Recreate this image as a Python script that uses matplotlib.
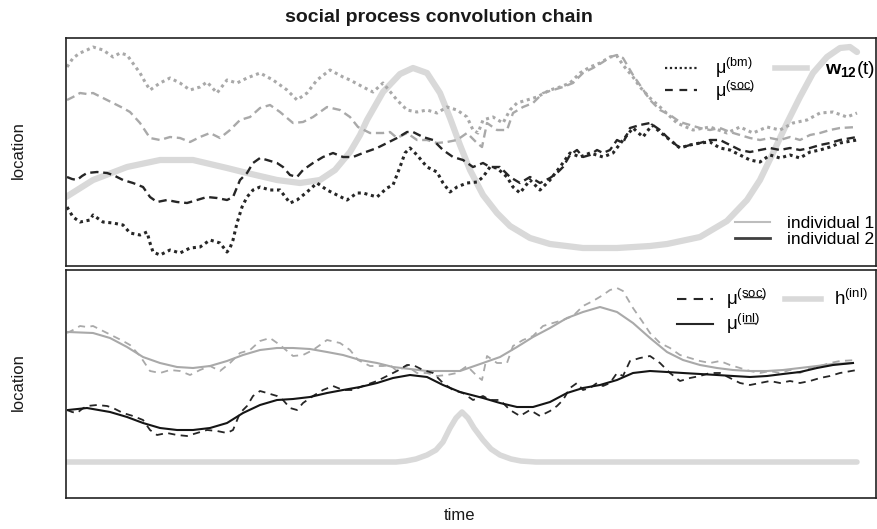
import numpy as np
import matplotlib.pyplot as plt
from matplotlib.lines import Line2D

plt.rcParams['font.family'] = ['Liberation Sans', 'DejaVu Sans']
plt.rcParams['mathtext.fontset'] = 'custom'
plt.rcParams['mathtext.rm'] = 'Liberation Sans'
plt.rcParams['mathtext.it'] = 'Liberation Sans:italic'
plt.rcParams['mathtext.bf'] = 'Liberation Sans:bold'

# --- individual 1: brownian motion and social process (time step, location)
bm1_t = [1, 7, 14, 21, 27, 37, 47, 54, 61, 66, 74, 79, 84, 94, 104, 114, 124, 134, 141, 151,
         161, 171, 181, 194, 207, 221, 231, 241, 251, 264, 277, 284, 297, 307, 317, 331, 341, 351, 361, 371,
         381, 391, 401, 407, 412, 417, 427, 437, 444, 451, 461, 471, 484, 494, 504, 514, 524, 534, 544, 551,
         557, 567, 574, 584, 594, 611, 627, 644, 661, 674, 687, 701, 714, 727, 741, 754, 767, 781, 791]
bm1 = [198, 207, 212, 215, 218, 215, 208, 212, 210, 203, 192, 183, 175, 182, 187, 182, 175, 178, 183, 172,
       185, 182, 187, 192, 185, 175, 165, 172, 185, 195, 188, 185, 178, 173, 182, 165, 155, 153, 155, 152,
       158, 155, 148, 135, 132, 145, 148, 142, 155, 162, 165, 168, 175, 178, 182, 192, 198, 202, 208, 209,
       200, 188, 178, 167, 158, 142, 135, 138, 132, 138, 132, 138, 135, 142, 145, 152, 153, 148, 152]

soc1_t = [1, 7, 14, 21, 27, 37, 51, 57, 64, 74, 84, 94, 104, 114, 124, 134, 144, 154, 164, 174,
          184, 194, 204, 214, 227, 237, 247, 261, 274, 284, 292, 304, 317, 324, 331, 341, 351, 361, 371, 381,
          391, 401, 411, 416, 421, 431, 441, 447, 457, 467, 477, 487, 497, 507, 517, 527, 537, 544, 551, 557,
          567, 576, 584, 594, 604, 614, 624, 634, 644, 654, 664, 674, 684, 694, 704, 714, 724, 734, 744, 754,
          764, 774, 791]
soc1 = [165, 168, 172, 171, 172, 167, 160, 157, 153, 142, 127, 125, 128, 127, 123, 128, 132, 127, 135, 145,
        148, 157, 160, 153, 142, 143, 148, 158, 155, 148, 138, 132, 132, 133, 127, 132, 125, 125, 122, 123,
        125, 132, 122, 118, 142, 135, 135, 152, 158, 162, 172, 175, 178, 182, 192, 197, 203, 208, 210, 207,
        190, 177, 165, 155, 150, 143, 140, 137, 135, 137, 133, 130, 127, 125, 127, 125, 128, 125, 130, 132,
        135, 137, 138]

# --- individual 2
bm2_t = [1, 7, 14, 24, 27, 37, 47, 57, 64, 74, 81, 84, 87, 94, 104, 114, 124, 134, 144, 154,
         161, 164, 167, 171, 176, 181, 187, 194, 204, 214, 224, 231, 241, 251, 261, 271, 281, 291, 297, 311,
         321, 327, 334, 339, 344, 351, 361, 371, 377, 384, 391, 401, 411, 417, 424, 431, 441, 447, 454, 464,
         474, 484, 494, 504, 514, 524, 537, 547, 557, 567, 577, 586, 594, 604, 614, 624, 634, 644, 654, 664,
         674, 684, 694, 704, 714, 724, 734, 744, 754, 764, 774, 791]
bm2 = [58, 48, 43, 45, 50, 43, 42, 40, 32, 30, 33, 22, 13, 10, 15, 12, 17, 18, 25, 22,
       13, 17, 25, 42, 58, 68, 75, 78, 75, 75, 62, 65, 73, 82, 75, 70, 65, 72, 72, 68,
       77, 80, 98, 112, 117, 110, 98, 93, 82, 73, 78, 82, 83, 88, 98, 97, 88, 78, 72, 85,
       75, 85, 98, 112, 108, 112, 108, 112, 125, 137, 128, 140, 133, 125, 117, 120, 122, 123, 117, 115,
       110, 105, 103, 110, 107, 110, 107, 113, 115, 118, 122, 125]

soc2_t = [1, 6, 11, 16, 21, 31, 41, 47, 57, 67, 77, 84, 91, 101, 111, 121, 131, 141, 151, 161,
          167, 174, 181, 187, 194, 201, 211, 217, 224, 231, 237, 247, 257, 267, 277, 287, 297, 311, 321, 331,
          341, 347, 357, 367, 377, 387, 397, 407, 417, 424, 434, 444, 454, 464, 474, 484, 491, 497, 504, 511,
          517, 524, 531, 537, 544, 551, 557, 564, 574, 584, 594, 604, 614, 624, 634, 644, 654, 664, 674, 684,
          694, 704, 714, 724, 734, 744, 754, 764, 774, 791]
soc2 = [88, 86, 85, 89, 92, 93, 92, 90, 85, 82, 78, 68, 63, 65, 63, 62, 65, 68, 67, 65,
        68, 85, 92, 102, 107, 105, 102, 98, 90, 88, 95, 102, 108, 112, 108, 108, 112, 117, 122, 127,
        133, 133, 128, 125, 115, 108, 105, 98, 102, 98, 98, 88, 82, 88, 82, 87, 92, 98, 110, 115,
        108, 110, 115, 112, 115, 125, 122, 137, 140, 142, 135, 125, 117, 120, 122, 125, 125, 120, 115, 113,
        115, 117, 115, 117, 115, 117, 120, 122, 125, 128]

# --- social weight w12(t)
w12_t = [0, 27, 61, 94, 127, 161, 181, 211, 234, 254, 269, 284, 294, 301, 317, 334, 347, 361, 374, 384,
         394, 404, 417, 431, 444, 464, 484, 517, 551, 584, 601, 634, 661, 681, 694, 707, 721, 734, 747, 761,
         774, 784, 791]
w12 = [68, 85, 98, 105, 105, 97, 92, 85, 82, 85, 95, 113, 130, 145, 173, 191, 197, 192, 172, 147,
       120, 95, 70, 52, 39, 27, 21, 17, 17, 19, 21, 28, 44, 65, 85, 112, 142, 168, 192, 208,
       217, 218, 213]

# --- inertia kernel and smoothed locations
h_t = [0, 330, 340, 350, 361, 370, 377, 384, 390, 396, 402, 408, 417, 425, 434, 445, 455, 470, 791]
h_inl = [36, 36, 37, 39, 43, 48, 56, 70, 80, 86, 80, 70, 58, 49, 43, 39, 37, 36, 36]

inl1_t = [2, 27, 44, 61, 77, 94, 111, 127, 144, 161, 177, 194, 211, 227, 244, 261, 277, 294, 311, 327,
          344, 361, 377, 394, 417, 434, 451, 467, 484, 501, 517, 534, 551, 567, 584, 601, 617, 634, 651, 667,
          684, 701, 717, 734, 751, 767, 787]
inl1 = [166, 165, 160, 151, 141, 135, 131, 130, 132, 137, 143, 148, 150, 150, 149, 146, 143, 138, 135, 131,
        129, 127, 127, 127, 135, 141, 151, 161, 170, 180, 186, 191, 186, 175, 160, 146, 138, 133, 130, 128,
        127, 127, 128, 130, 132, 134, 135]

inl2_t = [2, 21, 44, 61, 77, 94, 111, 127, 144, 161, 177, 194, 211, 227, 244, 261, 277, 294, 311, 327,
          344, 361, 377, 394, 417, 434, 451, 467, 484, 501, 517, 534, 551, 567, 584, 601, 617, 634, 651, 667,
          684, 701, 717, 734, 751, 767, 787]
inl2 = [88, 90, 86, 81, 75, 70, 68, 68, 70, 75, 85, 93, 98, 99, 101, 105, 108, 111, 115, 120,
        123, 121, 113, 106, 100, 95, 91, 91, 96, 105, 110, 113, 118, 125, 127, 126, 125, 124, 123, 122,
        121, 122, 124, 126, 130, 133, 135]

light = '#a9a9a9'
dark = '#262626'
pale = '#d9d9d9'
dotted = (0, (1.0, 1.2))
dashed = (0, (3.5, 2.0))

lab_bm = r'μ$^{(\mathrm{bm})}$'
lab_soc = r'μ$^{(\mathrm{soc})}$'
lab_inl = r'μ$^{(\mathrm{inl})}$'
lab_w = r'$\mathbf{w}_{\mathbf{12}}$(t)'
lab_h = r'h$^{(\mathrm{inl})}$'

fig = plt.figure(figsize=(8.78, 5.29), dpi=100)
ax1 = fig.add_axes([0.0752, 0.4981, 0.9225, 0.431])
ax2 = fig.add_axes([0.0752, 0.0586, 0.9225, 0.431])

# top: raw processes of both individuals and the weight between them
ax1.plot(w12_t, w12, color=pale, lw=4.5, solid_capstyle='round', zorder=1)
ax1.plot(bm1_t, bm1, color=light, lw=2.2, ls=dotted, zorder=2)
ax1.plot(soc1_t, soc1, color=light, lw=1.7, ls=dashed, zorder=2)
ax1.plot(bm2_t, bm2, color=dark, lw=2.2, ls=dotted, zorder=3)
ax1.plot(soc2_t, soc2, color=dark, lw=1.7, ls=dashed, zorder=3)

# bottom: social process convolved with the inertia kernel
ax2.plot(h_t, h_inl, color=pale, lw=4.0, solid_capstyle='round', zorder=1)
ax2.plot(soc1_t, soc1, color=light, lw=1.3, ls=(0, (4, 3)), zorder=2)
ax2.plot(soc2_t, soc2, color=dark, lw=1.3, ls=(0, (4, 3)), zorder=3)
ax2.plot(inl1_t, inl1, color=light, lw=1.5, zorder=2)
ax2.plot(inl2_t, inl2, color='#151515', lw=1.5, zorder=3)

ax1.set_ylim(-0.5, 227.5)
ax2.set_ylim(0, 228)
for ax in (ax1, ax2):
    ax.set_xlim(0, 810)
    ax.set_xticks([])
    ax.set_yticks([])
    for sp in ax.spines.values():
        sp.set_color('#222222')
        sp.set_linewidth(1.2)

W, H = 878.0, 529.0

hb = [Line2D([], [], color=dark, lw=1.6, ls=dotted),
      Line2D([], [], color=dark, lw=1.6, ls=(0, (3.5, 3.0))),
      Line2D([], [], color=pale, lw=4)]
leg1 = ax1.legend(hb, [lab_bm, lab_soc, lab_w], ncol=2, loc='upper left',
                  bbox_to_anchor=(665 / W, 1 - 56 / H), bbox_transform=fig.transFigure,
                  frameon=False, fontsize=13, borderpad=0, borderaxespad=0,
                  handlelength=1.75, handletextpad=1.0, columnspacing=1.15,
                  labelspacing=-0.08)
leg1.get_texts()[2].set_fontsize(14)
ax1.add_artist(leg1)

hi = [Line2D([], [], color='#bdbdbd', lw=1.5),
      Line2D([], [], color='#404040', lw=2.0)]
leg2 = ax1.legend(hi, ['individual 1', 'individual 2'], loc='upper left',
                  bbox_to_anchor=(735 / W, 1 - 216 / H), bbox_transform=fig.transFigure,
                  frameon=False, fontsize=12.6, borderpad=0, borderaxespad=0,
                  handlelength=2.0, handletextpad=0.95, labelspacing=0.02)

hs = [Line2D([], [], color=dark, lw=1.5, ls=(0, (4.5, 3.5))),
      Line2D([], [], color=dark, lw=1.5),
      Line2D([], [], color=pale, lw=4)]
leg3 = ax2.legend(hs, [lab_soc, lab_inl, lab_h], ncol=2, loc='upper left',
                  bbox_to_anchor=(677 / W, 1 - 287 / H), bbox_transform=fig.transFigure,
                  frameon=False, fontsize=13.5, borderpad=0, borderaxespad=0,
                  handlelength=1.9, handletextpad=0.7, columnspacing=0.95,
                  labelspacing=0.06)

fig.text(0.5, 1 - 18 / H, 'social process convolution chain', ha='center', va='center',
         fontsize=14, fontweight='bold', color='#1a1a1a')
fig.text(18 / W, 1 - 150 / H, 'location', rotation=90, ha='center', va='center',
         fontsize=12, color='#1a1a1a')
fig.text(18 / W, 1 - 382 / H, 'location', rotation=90, ha='center', va='center',
         fontsize=12, color='#1a1a1a')
fig.text(460 / W, 1 - 515 / H, 'time', ha='center', va='center', fontsize=12, color='#1a1a1a')

# underline the process name in the superscript of the mu labels
fig.canvas.draw()
rend = fig.canvas.get_renderer()
for leg in (leg1, leg3):
    for txt in leg.get_texts():
        s = txt.get_text()
        if 'soc' not in s and not (s.startswith('μ') and 'inl' in s):
            continue
        name = 'soc' if 'soc' in s else 'inl'
        prop = txt.get_fontproperties()
        x_pre = rend.get_text_width_height_descent('μ$^{(}$', prop, ismath=True)[0]
        x_end = rend.get_text_width_height_descent('μ$^{(\\mathrm{%s}}$' % name, prop, ismath=True)[0]
        bb = txt.get_window_extent(rend)
        size_px = prop.get_size_in_points() * fig.dpi / 72
        y = bb.y1 - 0.55 * size_px
        xs = [(bb.x0 + x_pre + 0.5) / fig.bbox.width, (bb.x0 + x_end) / fig.bbox.width]
        ys = [y / fig.bbox.height] * 2
        fig.add_artist(Line2D(xs, ys, color='#333333', lw=1.0, zorder=10,
                              transform=fig.transFigure))

fig.savefig('out.png', dpi=100)
